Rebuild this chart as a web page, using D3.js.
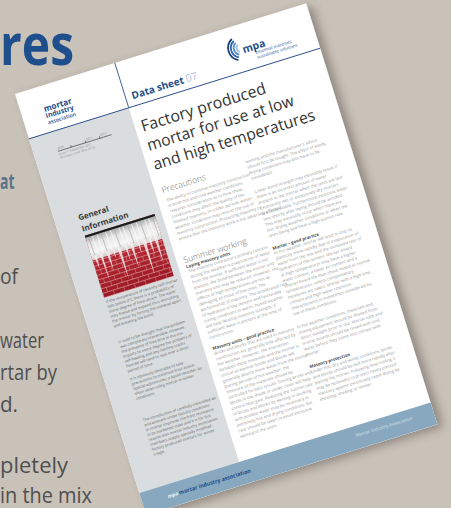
<!DOCTYPE html>
<html><head><meta charset="utf-8">
<script src="https://cdn.jsdelivr.net/npm/d3@7"></script>
<style>html,body{margin:0;padding:0;background:#c9c2b8;overflow:hidden}</style>
</head><body>
<svg id="c" width="451" height="508"></svg>
<script>
// ---------- content ----------
const backdropHeading = "res";
const backdropSub = "at";
const backdropLines = ["of", "water", "rtar by", "d.", "pletely", "in the mix"];
const logoLines = ["mortar", "industry", "association"];
const timelineYears = ["2009", "2011", "2012"];
const timelineNotes = ["Issue 1: September 2011", "(Previous issue: May 2012)"];
const sheetLabel = ["Data sheet", "07"];
const mpaName = "mpa";
const mpaTagline = ["essential materials", "sustainable solutions"];
const titleLines = ["Factory produced", "mortar for use at low", "and high temperatures"];
const sideHeading = ["General", "Information"];
const sideParas = [
  ["If the temperature of recently laid mortar", "falls below 0°C there is a probability of", "some degree of frost attack. The water", "may freeze and expand thus disrupting", "the mortar by forcing the material apart", "and breaking the bond."],
  ["It used to be thought that the problem", "was completely irreversible. However,", "the presence of free lime in the mix", "imparts to some degree the property of", "self-healing and any hairline cracks", "formed will tend to seal over a short", "period of time."],
  ["It is obviously desirable to take", "precautions to minimise frost attack.", "Special admixtures, a liquid retarder, by", "often when using mortar in winter", "conditions."],
  ["The introduction of carefully controlled air", "entrainment under factory conditions", "in mortar improves the frost resistance", "in its hardened state and it is for this", "reason that mortar industry association", "members supply specially modified", "factory produced mortars for winter", "usage."]
];
const headings = ["Precautions", "Summer working"];
const subHeadings = ["Laying masonry units", "Masonry units – good practice", "Mortar – good practice", "Masonry protection"];
const col1Paras = [
  ["The ability to continue masonry construction", "in both hot and cold weather conditions", "requires consideration as to how these", "conditions may affect the quality of the", "finished masonry. In colder periods winter", "weather conditions may restrict the use of", "masonry construction. Protecting masonry to", "ensure that the masonry work is not adversely affected."],
  ["The masonry contractor's primary concern", "during hot weather is evaporation of water", "from the mortar. If sufficient water is not", "present, the bond between the mortar and", "masonry unit may be reduced. However, the", "effects of high temperatures are not as", "damaging as those of low ones. The", "performance of masonry. The accelerated rate", "of hydration of the cement and favourable", "curing conditions in warm, humid weather", "will help develop masonry strength, if", "sufficient water is present at the time of", "construction."],
  ["Bricks and blocks that are used in masonry", "construction are generally little affected by", "hot weather. However, the interaction", "between these materials and the mortar is", "critical as warmer bricks and blocks will", "generally absorb more water from the mortar.", "During periods of hot weather, the", "moisture of the materials should be", "controlled for best results. Storing bricks and", "blocks in the shade or under cover will help", "control heat gain. Reducing the suction rate", "of bricks and blocks by wetting or docking", "with potable water may be necessary in", "extremely hot and drying conditions, but", "care should be taken to avoid excessive", "wetting of the units."]
];
const col2Paras = [
  ["wetting and the manufacturer's advice", "should first be sought. The effect of windy,", "drying conditions may also have to be", "considered."],
  ["Lower bond strength may inevitably result if", "there is an incorrect amount of water", "present in the mortar when the units are laid.", "Excessively wet or excessively dry mortars", "are undesirable. Furthermore excessive water", "loss shortly after laying should be avoided.", "This may inevitably occur when there are", "hot, drying weather conditions or when the", "units being laid have a high suction rate."],
  ["In hot weather, mortar will tend to lose its", "plasticity more rapidly due to evaporation of", "water from the mix and the increased rate of", "hydration of the cement. Mortar mixed", "at high temperatures may have a higher", "water content, a lower air content and a", "shorter board life than those mixed at normal", "temperatures, unless compensatory", "measures are taken. Mortar with a high lime", "content and high water retention", "characteristics is sometimes considered for", "use in these conditions."],
  ["In hot weather conditions, materials and", "mixing equipment should be shaded from", "direct sunlight prior to use. Mortar tubs and", "mortar boards should be rinsed with cool", "water before they come into contact with", "mortar."],
  ["Under hot, dry and windy conditions, bricks", "and blocks should be laid more rapidly after", "placing the mortar. Following final tooling it", "may be necessary to protect newly erected", "masonry against excessively rapid drying by", "sheeting, shading or similar."]
];
const footerLeft = ["mpa", "mortar industry association"];
const footerRight = "Mortar Industry Association";

// ---------- drawing ----------
const FONT = "'Open Sans', 'Noto Sans', sans-serif";
const svg = d3.select("#c");
const defs = svg.append("defs");
const flt = defs.append("filter").attr("id", "sh").attr("x", "-20%").attr("y", "-20%").attr("width", "150%").attr("height", "150%");
flt.append("feDropShadow").attr("dx", 5).attr("dy", 4).attr("stdDeviation", 5).attr("flood-color", "#4a4038").attr("flood-opacity", 0.45);

svg.append("rect").attr("width", 451).attr("height", 508).attr("fill", "#c9c2b8");

// backdrop text (visible fragments of a larger page behind)
svg.append("text").attr("x", 0).attr("y", 65).attr("textLength", 74).attr("lengthAdjust", "spacingAndGlyphs")
  .attr("font-family", FONT).attr("font-weight", 700).attr("font-size", 58).attr("fill", "#1f4e8c").text(backdropHeading);
svg.append("text").attr("x", 0).attr("y", 189).attr("textLength", 14.5).attr("lengthAdjust", "spacingAndGlyphs")
  .attr("font-family", FONT).attr("font-weight", 700).attr("font-size", 21).attr("fill", "#5b7389").text(backdropSub);
const bdY = [284, 348, 380, 412, 473, 503], bdEnd = [18, 44, 57, 18, 68, 92];
svg.selectAll(".bd").data(backdropLines).enter().append("text").attr("class", "bd")
  .attr("x", 0).attr("y", (d, i) => bdY[i]).attr("textLength", (d, i) => bdEnd[i]).attr("lengthAdjust", "spacingAndGlyphs")
  .attr("font-family", FONT).attr("font-size", (d, i) => i >= 4 ? 21 : 22).attr("fill", "#4f4f4f").text(d => d);

// page
const PW = 305, PH = 441, HEAD = 47, FOOT = 418, SIDE = 104.5;
const page = svg.append("g").attr("transform", "translate(15,94) rotate(-17.3)");
page.append("rect").attr("width", PW).attr("height", PH).attr("fill", "#fff").attr("filter", "url(#sh)");
page.append("rect").attr("y", HEAD).attr("width", SIDE).attr("height", FOOT - HEAD).attr("fill", "#d9dde0");
page.append("rect").attr("y", FOOT).attr("width", PW).attr("height", PH - FOOT).attr("fill", "#87a8be");
page.append("line").attr("x1", 0).attr("x2", PW).attr("y1", HEAD).attr("y2", HEAD).attr("stroke", "#2a4f8a").attr("stroke-width", 0.9);
page.append("line").attr("x1", SIDE).attr("x2", SIDE).attr("y1", 0).attr("y2", HEAD).attr("stroke", "#2a4f8a").attr("stroke-width", 0.8);

function textLines(lines, x, y0, step, size, fill, weight, lens) {
  const y = d3.scaleLinear().domain([0, 1]).range([y0, y0 + step]);
  const t = page.append("g").selectAll("text").data(lines).enter().append("text")
    .attr("x", x).attr("y", (d, i) => y(i))
    .attr("font-family", FONT).attr("font-size", size).attr("font-weight", weight || 400)
    .attr("fill", fill).text(d => d);
  if (lens) t.attr("textLength", (d, i) => lens[i]).attr("lengthAdjust", "spacingAndGlyphs");
}

// header logo
const logoY = [26, 32.5, 39], logoSize = [8.5, 7.2, 5.3];
page.append("g").selectAll("text").data(logoLines).enter().append("text")
  .attr("x", 23).attr("y", (d, i) => logoY[i]).attr("font-family", FONT).attr("font-weight", (d, i) => i < 2 ? 700 : 600)
  .attr("font-size", (d, i) => logoSize[i]).attr("fill", "#1d4e89")
  .attr("textLength", 29).attr("lengthAdjust", "spacingAndGlyphs").text(d => d);

// timeline
const tl = d3.scaleLinear().domain([0, 2]).range([38, 68]);
page.append("line").attr("x1", 24).attr("x2", 80).attr("y1", 67.5).attr("y2", 67.5).attr("stroke", "#333").attr("stroke-width", 0.6);
page.append("g").selectAll("line").data(timelineYears).enter().append("line")
  .attr("x1", (d, i) => tl(i)).attr("x2", (d, i) => tl(i)).attr("y1", 65.5).attr("y2", 67.5).attr("stroke", "#333").attr("stroke-width", 0.6);
page.append("g").selectAll("text").data(timelineYears).enter().append("text")
  .attr("x", (d, i) => i === 0 ? 24 : tl(i) + 1).attr("y", 65.5).attr("font-family", FONT).attr("font-size", 3).attr("fill", "#777").text(d => d);
textLines(timelineNotes, 24, 71.5, 3.8, 3, "#888");

// Data sheet label
const ds = page.append("text").attr("x", 111).attr("y", 40).attr("font-family", FONT).attr("font-size", 10);
ds.append("tspan").attr("font-weight", 700).attr("fill", "#1d4e89").text(sheetLabel[0] + " ");
ds.append("tspan").attr("font-weight", 300).attr("fill", "#5f8cc4").text(sheetLabel[1]);

// mpa logo
const arcR = [4, 6.8, 9.6, 12.4], arcC = ["#9fc0e4", "#5b8fcf", "#2d66b0", "#1b3f7a"];
const arcGen = d3.arc().startAngle(Math.PI * 1.15).endAngle(Math.PI * 1.85);
page.append("g").attr("transform", "translate(229,23)").selectAll("path").data(arcR).enter().append("path")
  .attr("d", r => arcGen({ innerRadius: r - 0.9, outerRadius: r + 0.9 })).attr("fill", (d, i) => arcC[i]);
page.append("text").attr("x", 230.5).attr("y", 29).attr("font-family", FONT).attr("font-weight", 700).attr("font-size", 10.5).attr("fill", "#1d4e89").text(mpaName);
textLines(mpaTagline, 242, 33.5, 5, 4.3, "#2a5c9a");

// title
textLines(titleLines, 111, 74.2, 20, 16, "#333", 400, [130, 153, 169]);

// sidebar heading
textLines(sideHeading, 23.7, 140, 11.6, 8, "#3a3a3a", 700);

// photo
const ph = page.append("g").attr("transform", "translate(24.5,156)");
const PWd = 73, PHt = 65;
const gIce = defs.append("linearGradient").attr("id", "ice").attr("x1", 0).attr("x2", 0).attr("y1", 0).attr("y2", 1);
gIce.append("stop").attr("offset", 0).attr("stop-color", "#9a9a9a");
gIce.append("stop").attr("offset", 0.35).attr("stop-color", "#e6e6e6");
gIce.append("stop").attr("offset", 0.7).attr("stop-color", "#f4f4f4");
gIce.append("stop").attr("offset", 1).attr("stop-color", "#d8d0d0");
const gRed = defs.append("linearGradient").attr("id", "red").attr("x1", 0).attr("x2", 0).attr("y1", 0).attr("y2", 1);
gRed.append("stop").attr("offset", 0).attr("stop-color", "#c53039");
gRed.append("stop").attr("offset", 1).attr("stop-color", "#9c1b26");
ph.append("rect").attr("width", PWd).attr("height", PHt).attr("fill", "url(#red)");
ph.append("rect").attr("width", PWd).attr("height", 26).attr("fill", "url(#ice)");
ph.append("rect").attr("width", PWd).attr("height", 2.2).attr("fill", "#1b1b1b");
// brick courses
const rows = d3.range(0, 9), rowY = d3.scaleLinear().domain([0, 1]).range([27.5, 32.2]);
ph.append("g").selectAll("line").data(rows).enter().append("line")
  .attr("x1", 0).attr("x2", PWd).attr("y1", r => rowY(r)).attr("y2", r => rowY(r))
  .attr("stroke", "#eab8be").attr("stroke-width", 0.6).attr("opacity", 0.85);
const joints = [];
rows.forEach(r => d3.range(r % 2 ? 5 : 0, PWd, 11).forEach(x => joints.push([x, r])));
ph.append("g").selectAll("line").data(joints).enter().append("line")
  .attr("x1", d => d[0]).attr("x2", d => d[0]).attr("y1", d => rowY(d[1]) - 4.7).attr("y2", d => rowY(d[1]))
  .attr("stroke", "#e3a9b0").attr("stroke-width", 0.5).attr("opacity", 0.8);
// frost streaks in ice zone
const frost = [3, 7, 12, 16, 21, 26, 30, 35, 39, 44, 48, 53, 57, 62, 66, 70];
ph.append("g").selectAll("line").data(frost).enter().append("line")
  .attr("x1", d => d).attr("x2", d => d + 0.8).attr("y1", 3).attr("y2", 22)
  .attr("stroke", (d, i) => i % 3 ? "#ffffff" : "#a8a8a8").attr("stroke-width", 0.9).attr("opacity", 0.7);
// icicles
const icicles = [[4, 14, 3], [10, 28, 2.4], [17, 20, 3], [23, 9, 2], [29, 32, 3.2], [36, 16, 2.4], [42, 25, 3], [49, 12, 2], [55, 36, 3.4], [61, 18, 2.4], [67, 28, 3]];
ph.append("g").selectAll("path").data(icicles).enter().append("path")
  .attr("d", d => `M${d[0] - d[2] / 2},22 L${d[0] + d[2] / 2},22 L${d[0] + 0.3},${22 + d[1]} Z`)
  .attr("fill", "#f4f0f0").attr("opacity", 0.85);

// sidebar paragraphs
const sideY = [227, 269, 308, 351];
sideParas.forEach((p, i) => textLines(p, 25, sideY[i], 5.1, 3.9, "#6a6a6a"));

// main headings
const headY = [138.7, 212];
page.append("g").selectAll("text").data(headings).enter().append("text")
  .attr("x", 111.5).attr("y", (d, i) => headY[i]).attr("font-family", FONT).attr("font-size", 8.6)
  .attr("font-weight", 300).attr("fill", "#707070").text(d => d);
// sub headings
const subPos = [[112, 217.5], [113, 303.4], [200, 225.6], [200, 349.6]];
page.append("g").selectAll("text").data(subHeadings).enter().append("text")
  .attr("x", (d, i) => subPos[i][0]).attr("y", (d, i) => subPos[i][1]).attr("font-family", FONT).attr("font-size", 4.3)
  .attr("font-weight", 700).attr("fill", "#4a4a4a").text(d => d);

// column paragraphs
const LS = 5.8, BODY = 4.2, BODYC = "#979797";
const col1Y = [148, 222.5, 308.5];
col1Paras.forEach((p, i) => textLines(p, 113, col1Y[i], LS, BODY, BODYC));
const col2Y = [135, 166.2, 230.5, 308, 355];
col2Paras.forEach((p, i) => textLines(p, 200, col2Y[i], LS, BODY, BODYC));

// footer
page.append("text").attr("x", 26).attr("y", 431.5).attr("font-family", FONT).attr("font-size", 5).attr("font-weight", 700).attr("fill", "#eef3f7").text(footerLeft[0]);
page.append("text").attr("x", 38).attr("y", 431.5).attr("font-family", FONT).attr("font-size", 5.6).attr("font-weight", 700)
  .attr("fill", "#1d4e89").attr("textLength", 75).attr("lengthAdjust", "spacingAndGlyphs").text(footerLeft[1]);
page.append("text").attr("x", 283).attr("y", 429).attr("text-anchor", "end").attr("font-family", FONT).attr("font-size", 4.6)
  .attr("fill", "#d6e2ea").text(footerRight);
</script>
</body></html>
